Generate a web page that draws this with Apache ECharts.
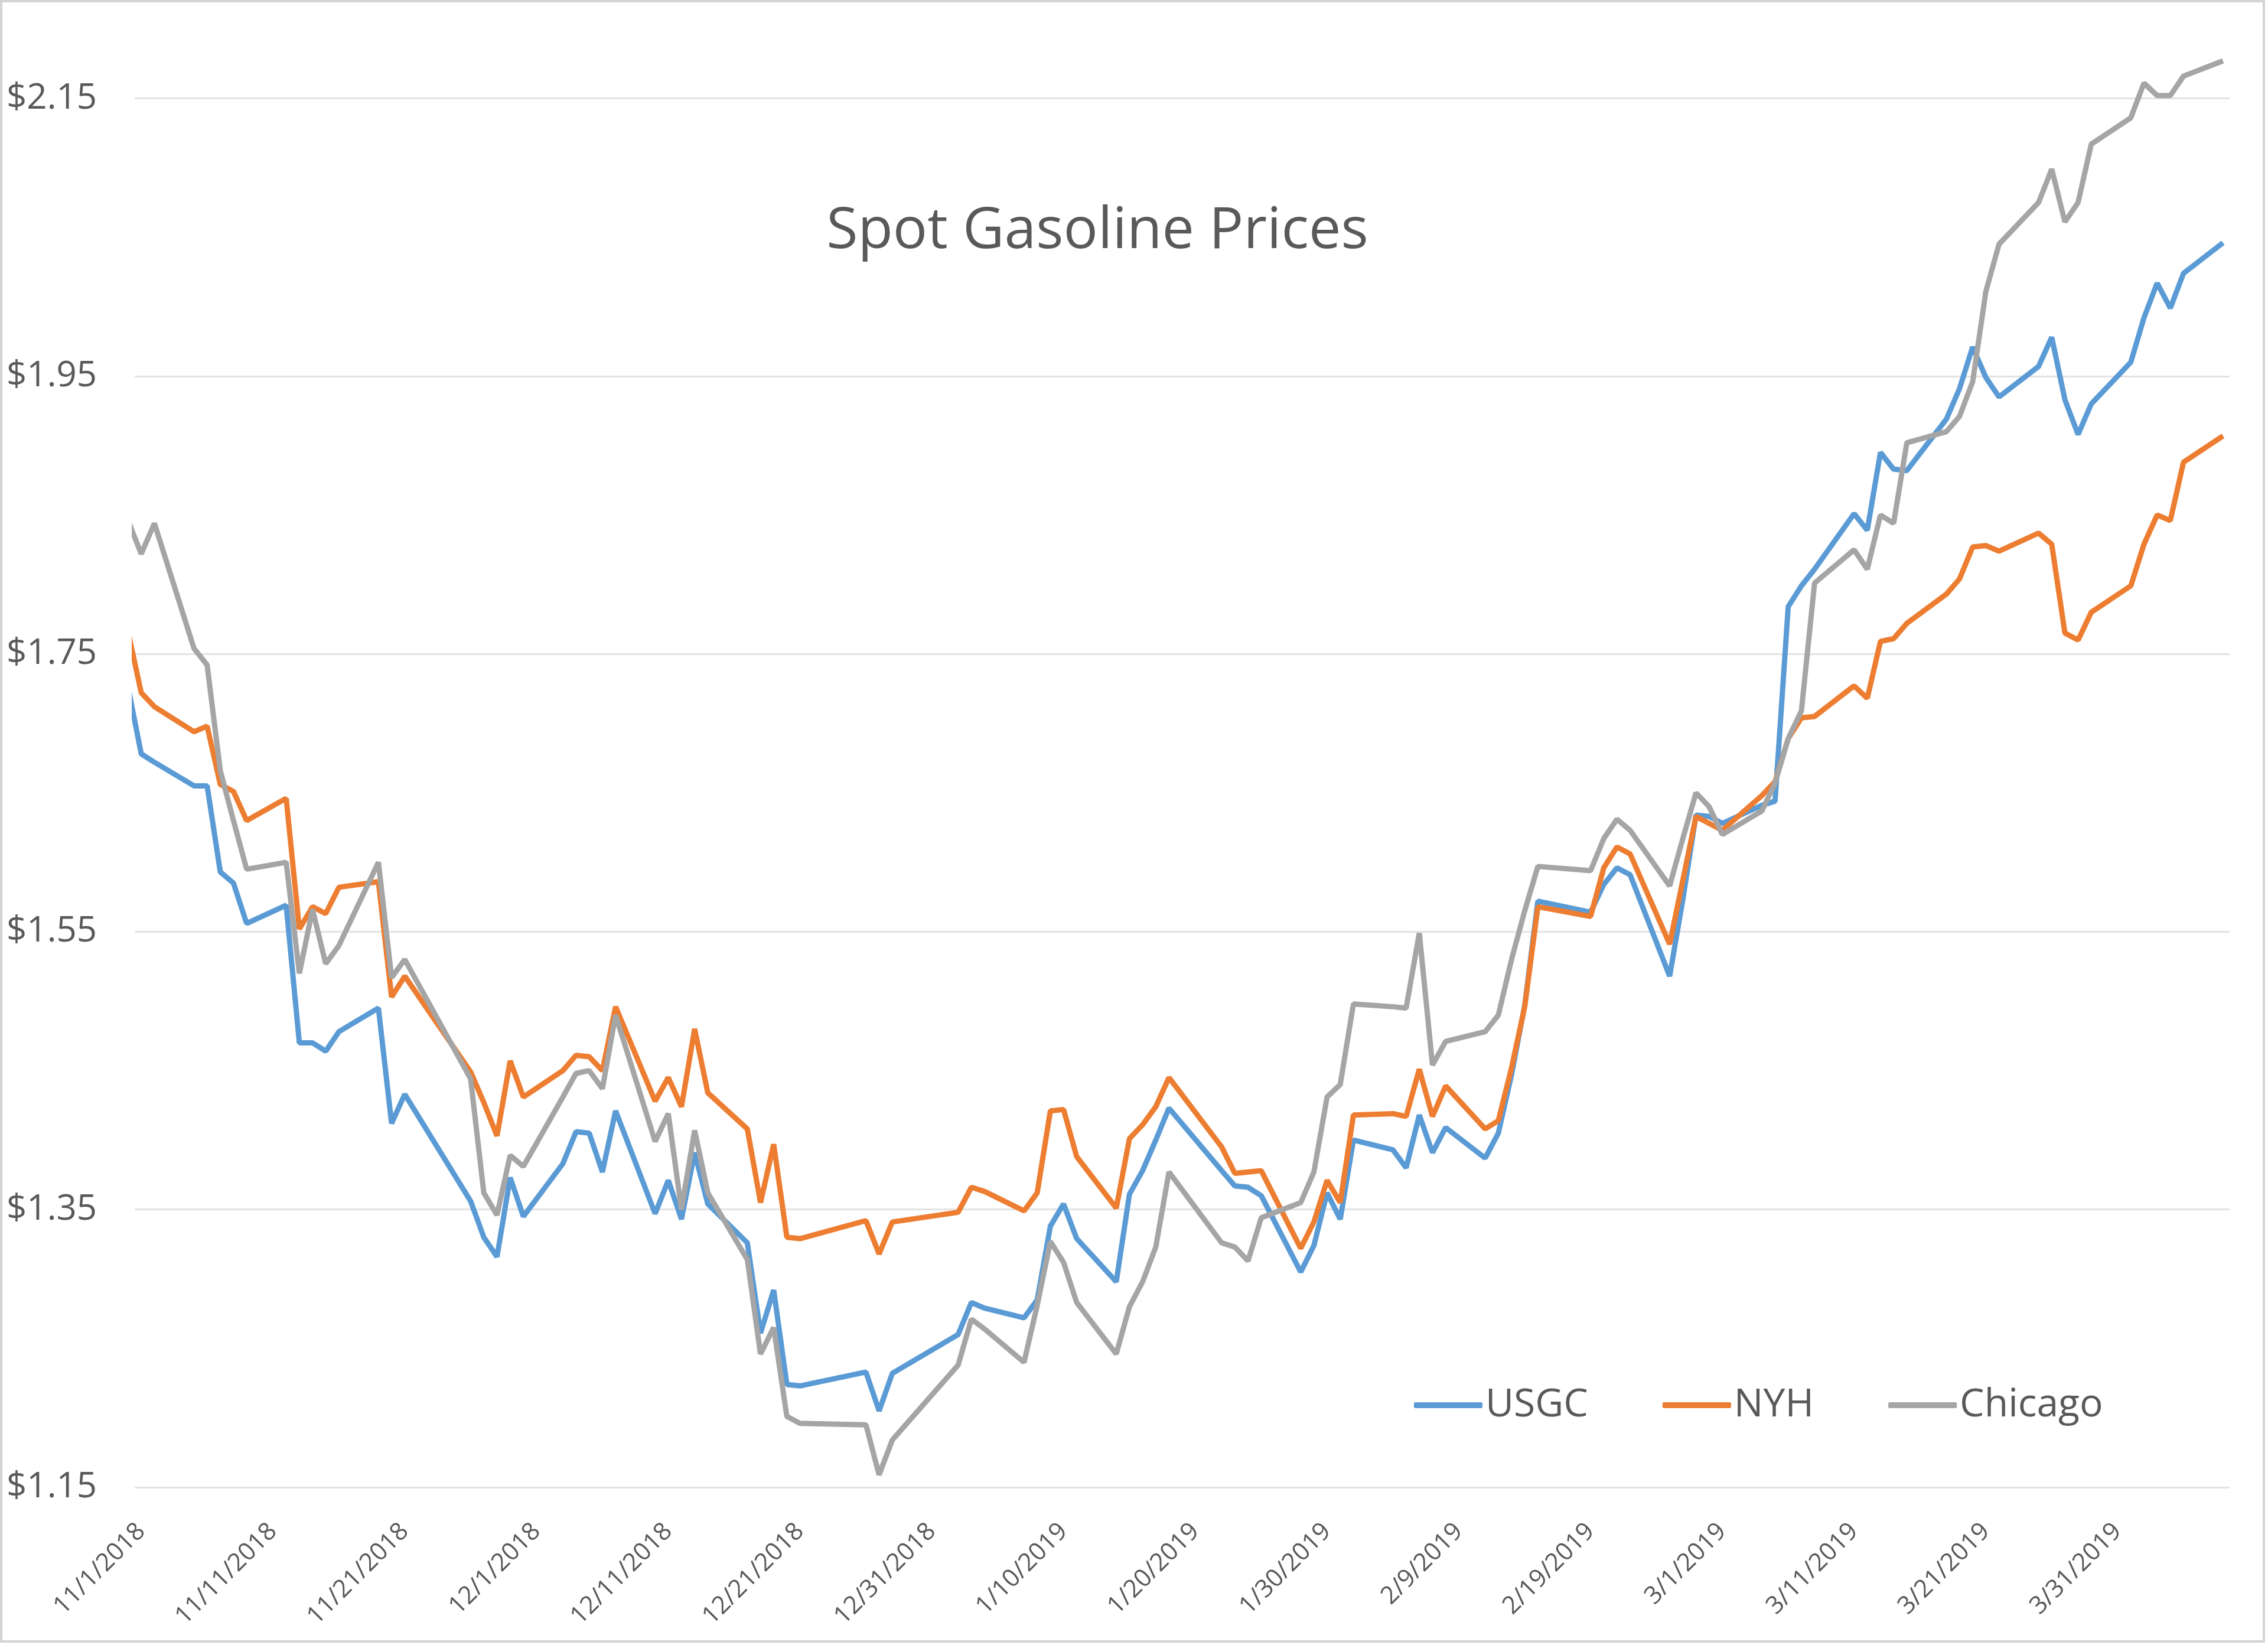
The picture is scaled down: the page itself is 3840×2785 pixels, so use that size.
<!DOCTYPE html>
<html lang="en">
<head>
<meta charset="UTF-8">
<title>Spot Gasoline Prices</title>
<script src="https://cdn.jsdelivr.net/npm/echarts@6/dist/echarts.min.js"></script>
<style>
  html, body { margin: 0; padding: 0; background: #fff; }
  #chart { width: 3840px; height: 2785px; }
</style>
</head>
<body>
<div id="chart"></div>
<script>
// trading days (10/31 only feeds the clipped stub at the left edge)
var dates = [
  '10/31/2018', '11/1/2018', '11/2/2018', '11/5/2018', '11/6/2018', '11/7/2018', '11/8/2018', '11/9/2018',
  '11/12/2018', '11/13/2018', '11/14/2018', '11/15/2018', '11/16/2018', '11/19/2018', '11/20/2018', '11/21/2018',
  '11/26/2018', '11/27/2018', '11/28/2018', '11/29/2018', '11/30/2018',
  '12/3/2018', '12/4/2018', '12/5/2018', '12/6/2018', '12/7/2018', '12/10/2018', '12/11/2018', '12/12/2018',
  '12/13/2018', '12/14/2018', '12/17/2018', '12/18/2018', '12/19/2018', '12/20/2018', '12/21/2018',
  '12/26/2018', '12/27/2018', '12/28/2018',
  '1/2/2019', '1/3/2019', '1/4/2019', '1/7/2019', '1/8/2019', '1/9/2019', '1/10/2019', '1/11/2019',
  '1/14/2019', '1/15/2019', '1/16/2019', '1/17/2019', '1/18/2019', '1/22/2019', '1/23/2019', '1/24/2019',
  '1/25/2019', '1/28/2019', '1/29/2019', '1/30/2019', '1/31/2019',
  '2/1/2019', '2/4/2019', '2/5/2019', '2/6/2019', '2/7/2019', '2/8/2019', '2/11/2019', '2/12/2019',
  '2/13/2019', '2/14/2019', '2/15/2019', '2/19/2019', '2/20/2019', '2/21/2019', '2/22/2019',
  '2/25/2019', '2/26/2019', '2/27/2019', '2/28/2019',
  '3/1/2019', '3/4/2019', '3/5/2019', '3/6/2019', '3/7/2019', '3/8/2019', '3/11/2019', '3/12/2019',
  '3/13/2019', '3/14/2019', '3/15/2019', '3/18/2019', '3/19/2019', '3/20/2019', '3/21/2019', '3/22/2019',
  '3/25/2019', '3/26/2019', '3/27/2019', '3/28/2019', '3/29/2019',
  '4/1/2019', '4/2/2019', '4/3/2019', '4/4/2019', '4/5/2019', '4/8/2019'
];

var usgc = [
  1.726, 1.678, 1.672, 1.655, 1.655, 1.593, 1.585, 1.556,
  1.569, 1.470, 1.470, 1.464, 1.478, 1.495, 1.412, 1.433,
  1.356, 1.330, 1.316, 1.373, 1.345,
  1.383, 1.406, 1.405, 1.377, 1.421, 1.347, 1.371, 1.343,
  1.391, 1.354, 1.326, 1.261, 1.292, 1.224, 1.223,
  1.233, 1.205, 1.232,
  1.260, 1.283, 1.279, 1.272, 1.285, 1.338, 1.354, 1.329,
  1.298, 1.361, 1.378, 1.400, 1.423, 1.378, 1.367, 1.366,
  1.360, 1.305, 1.324, 1.362, 1.343,
  1.400, 1.393, 1.380, 1.418, 1.391, 1.409, 1.387, 1.405,
  1.447, 1.497, 1.572, 1.564, 1.584, 1.596, 1.591,
  1.518, 1.573, 1.634, 1.633,
  1.628, 1.641, 1.644, 1.784, 1.799, 1.811, 1.851, 1.839,
  1.895, 1.883, 1.882, 1.919, 1.941, 1.971, 1.949, 1.935,
  1.957, 1.978, 1.933, 1.908, 1.930,
  1.960, 1.992, 2.017, 1.999, 2.024, 2.046
];

var nyh = [
  1.766, 1.722, 1.712, 1.694, 1.698, 1.656, 1.651, 1.630,
  1.646, 1.552, 1.568, 1.563, 1.582, 1.586, 1.503, 1.518,
  1.449, 1.427, 1.403, 1.457, 1.431,
  1.450, 1.461, 1.460, 1.450, 1.496, 1.428, 1.445, 1.424,
  1.480, 1.434, 1.408, 1.355, 1.397, 1.330, 1.329,
  1.342, 1.318, 1.341,
  1.348, 1.366, 1.363, 1.349, 1.362, 1.421, 1.422, 1.388,
  1.351, 1.401, 1.411, 1.424, 1.445, 1.395, 1.376, 1.377,
  1.378, 1.322, 1.341, 1.371, 1.355,
  1.418, 1.419, 1.417, 1.451, 1.417, 1.439, 1.408, 1.414,
  1.452, 1.496, 1.568, 1.561, 1.596, 1.611, 1.606,
  1.541, 1.587, 1.633, 1.628,
  1.623, 1.648, 1.658, 1.689, 1.704, 1.705, 1.727, 1.718,
  1.759, 1.761, 1.772, 1.793, 1.804, 1.827, 1.828, 1.824,
  1.837, 1.829, 1.765, 1.760, 1.780,
  1.799, 1.829, 1.850, 1.846, 1.888, 1.907
];

var chicago = [
  1.846, 1.822, 1.844, 1.754, 1.742, 1.666, 1.630, 1.595,
  1.600, 1.520, 1.566, 1.527, 1.540, 1.600, 1.517, 1.530,
  1.444, 1.362, 1.346, 1.389, 1.381,
  1.431, 1.448, 1.450, 1.437, 1.490, 1.399, 1.419, 1.350,
  1.407, 1.362, 1.314, 1.246, 1.265, 1.201, 1.196,
  1.195, 1.159, 1.184,
  1.238, 1.271, 1.264, 1.240, 1.281, 1.327, 1.312, 1.283,
  1.246, 1.280, 1.298, 1.323, 1.377, 1.326, 1.323, 1.313,
  1.344, 1.355, 1.377, 1.431, 1.440,
  1.498, 1.496, 1.495, 1.549, 1.454, 1.471, 1.478, 1.490,
  1.530, 1.565, 1.597, 1.594, 1.617, 1.631, 1.623,
  1.583, 1.617, 1.650, 1.640,
  1.620, 1.637, 1.657, 1.689, 1.709, 1.801, 1.825, 1.811,
  1.850, 1.844, 1.902, 1.910, 1.921, 1.946, 2.011, 2.045,
  2.075, 2.099, 2.061, 2.075, 2.117,
  2.136, 2.161, 2.152, 2.152, 2.166, 2.177
];

var tickDates = [
  '11/1/2018', '11/11/2018', '11/21/2018', '12/1/2018', '12/11/2018', '12/21/2018',
  '12/31/2018', '1/10/2019', '1/20/2019', '1/30/2019', '2/9/2019', '2/19/2019',
  '3/1/2019', '3/11/2019', '3/21/2019', '3/31/2019'
];
var yTicks = [1.15, 1.35, 1.55, 1.75, 1.95, 2.15];

var FONT = '"Open Sans", "Liberation Sans", sans-serif';
var TEXT = '#595959';

// day number counted from 11/1/2018
function dayOf(s) {
  var p = s.split('/').map(Number);
  return (Date.UTC(p[2], p[0] - 1, p[1]) - Date.UTC(2018, 10, 1)) / 86400000;
}
function dateOf(n) {
  var d = new Date(Date.UTC(2018, 10, 1) + Math.floor(n) * 86400000);
  return (d.getUTCMonth() + 1) + '/' + d.getUTCDate() + '/' + d.getUTCFullYear();
}
// points sit in the middle of their day slot
function pairs(vals) {
  return dates.map(function (d, i) { return [dayOf(d) + 0.5, vals[i]]; });
}

var chart = echarts.init(document.getElementById('chart'));
chart.setOption({
  backgroundColor: '#fff',
  animation: false,
  grid: { left: 228, right: 65, top: 0, bottom: 267 },
  xAxis: {
    type: 'value',
    min: 0,
    max: 159,
    axisLine: { show: false },
    axisTick: { show: false },
    splitLine: { show: false },
    axisLabel: {
      customValues: tickDates.map(function (d) { return dayOf(d) + 0.5; }),
      formatter: function (v) { return dateOf(v); },
      rotate: 45,
      margin: 68,
      fontSize: 42,
      fontFamily: FONT,
      color: TEXT
    }
  },
  yAxis: {
    type: 'value',
    min: 1.15,
    max: 2.2208,
    interval: 0.2,
    axisLine: { show: false },
    axisTick: { show: false },
    splitLine: { lineStyle: { color: '#e3e3e3', width: 3 } },
    axisLabel: {
      margin: 64,
      fontSize: 60,
      fontFamily: FONT,
      color: TEXT,
      formatter: function (v) {
        for (var i = 0; i < yTicks.length; i++) {
          if (Math.abs(v - yTicks[i]) < 1e-6) return '$' + yTicks[i].toFixed(2);
        }
        return '';
      }
    }
  },
  legend: {
    left: 2389,
    top: 2341,
    icon: 'roundRect',
    itemWidth: 116,
    itemHeight: 10,
    itemGap: 126,
    textStyle: { fontSize: 66, fontFamily: FONT, color: TEXT },
    data: ['USGC', 'NYH', 'Chicago']
  },
  graphic: [
    {
      type: 'text',
      x: 1858,
      y: 392,
      style: {
        text: 'Spot Gasoline Prices',
        fontSize: 97,
        fontFamily: FONT,
        fill: TEXT,
        align: 'center',
        verticalAlign: 'middle'
      }
    },
    {
      type: 'rect',
      shape: { x: 2, y: 2, width: 3831, height: 2777 },
      style: { fill: 'none', stroke: '#d4d4d4', lineWidth: 4 },
      z: 100
    }
  ],
  series: [
    { name: 'USGC', type: 'line', data: pairs(usgc), symbol: 'none',
      lineStyle: { color: '#5B9BD5', width: 9 }, itemStyle: { color: '#5B9BD5' } },
    { name: 'NYH', type: 'line', data: pairs(nyh), symbol: 'none',
      lineStyle: { color: '#ED7D31', width: 9 }, itemStyle: { color: '#ED7D31' } },
    { name: 'Chicago', type: 'line', data: pairs(chicago), symbol: 'none',
      lineStyle: { color: '#A5A5A5', width: 9 }, itemStyle: { color: '#A5A5A5' } }
  ]
});
</script>
</body>
</html>
